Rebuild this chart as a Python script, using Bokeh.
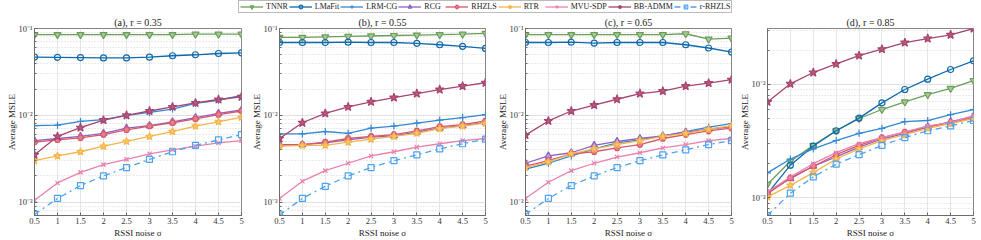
from bokeh.plotting import figure
from bokeh.layouts import row, column
from bokeh.models import (Range1d, FixedTicker, CustomJSTickFormatter, Legend, LegendItem,
                          ColumnDataSource, Title)
from bokeh.embed import file_html
from bokeh.resources import INLINE

X = [0.5, 1, 1.5, 2, 2.5, 3, 3.5, 4, 4.5, 5]
X_LABELS = ["0.5", "1", "1.5", "2", "2.5", "3", "3.5", "4", "4.5", "5"]
METHODS = ["TNNR", "LMaFit", "LRM-CG", "RCG", "RHZLS", "RTR", "MVU-SDP", "BB-ADMM", "r-RHZLS"]
TITLES = ["(a), r = 0.35", "(b), r = 0.55", "(c), r = 0.65", "(d), r = 0.85"]

# panel (a)
TNNR_a = [0.085, 0.085, 0.085, 0.085, 0.085, 0.085, 0.085, 0.086, 0.086, 0.086]
LMaFit_a = [0.0468, 0.0466, 0.0462, 0.0458, 0.0458, 0.0467, 0.0485, 0.0498, 0.0515, 0.0525]
LRMCG_a = [0.0076, 0.0077, 0.0085, 0.0089, 0.0100, 0.0108, 0.0118, 0.0137, 0.0149, 0.0170]
RCG_a = [0.0051, 0.0054, 0.0057, 0.0062, 0.0071, 0.0076, 0.0084, 0.0094, 0.0105, 0.0115]
RHZLS_a = [0.0049, 0.0052, 0.0055, 0.0060, 0.0068, 0.0075, 0.0082, 0.0091, 0.0102, 0.0112]
RTR_a = [0.0030, 0.0034, 0.0038, 0.0044, 0.0050, 0.0057, 0.0065, 0.0075, 0.0084, 0.0095]
MVU_a = [0.00105, 0.00166, 0.0022, 0.0027, 0.0031, 0.0036, 0.0040, 0.0044, 0.0048, 0.0051]
BB_a = [0.0035, 0.0057, 0.0072, 0.0088, 0.0100, 0.0112, 0.0125, 0.0139, 0.0152, 0.0163]
rRHZLS_a = [0.00072, 0.0011, 0.00155, 0.0020, 0.0025, 0.0031, 0.0038, 0.0045, 0.0052, 0.0060]

# panel (b)
TNNR_b = [0.079, 0.079, 0.080, 0.081, 0.082, 0.083, 0.084, 0.085, 0.086, 0.088]
LMaFit_b = [0.069, 0.069, 0.069, 0.0695, 0.069, 0.069, 0.0675, 0.065, 0.0623, 0.059]
LRMCG_b = [0.0061, 0.0061, 0.0065, 0.0062, 0.0071, 0.0075, 0.0081, 0.0088, 0.0094, 0.0102]
RCG_b = [0.0046, 0.0046, 0.0048, 0.0052, 0.0056, 0.0058, 0.0064, 0.0071, 0.0076, 0.0083]
RHZLS_b = [0.0045, 0.0046, 0.0049, 0.0054, 0.0057, 0.0060, 0.0066, 0.0074, 0.0078, 0.0086]
RTR_b = [0.0044, 0.0045, 0.0045, 0.0049, 0.0053, 0.0057, 0.0062, 0.0070, 0.0075, 0.0081]
MVU_b = [0.0011, 0.00174, 0.0023, 0.0028, 0.0034, 0.0038, 0.0043, 0.0047, 0.0051, 0.0054]
BB_b = [0.0054, 0.0082, 0.0105, 0.0125, 0.0143, 0.016, 0.0178, 0.0198, 0.0217, 0.0237]
rRHZLS_b = [0.00071, 0.0011, 0.00152, 0.0020, 0.0025, 0.0030, 0.0035, 0.0041, 0.0047, 0.0053]

# panel (c)
TNNR_c = [0.085, 0.085, 0.085, 0.085, 0.085, 0.085, 0.085, 0.087, 0.0755, 0.0775]
LMaFit_c = [0.069, 0.069, 0.0695, 0.068, 0.069, 0.069, 0.069, 0.065, 0.0596, 0.0535]
LRMCG_c = [0.0024, 0.0028, 0.0034, 0.0041, 0.0048, 0.0052, 0.0058, 0.0065, 0.0073, 0.0080]
RCG_c = [0.0028, 0.0034, 0.0037, 0.0045, 0.0050, 0.0054, 0.0058, 0.0064, 0.0069, 0.0074]
RHZLS_c = [0.0026, 0.0030, 0.0036, 0.0038, 0.0042, 0.0046, 0.0054, 0.0060, 0.0066, 0.0071]
RTR_c = [0.0025, 0.0029, 0.0036, 0.0041, 0.0046, 0.0051, 0.0057, 0.0062, 0.0069, 0.0076]
MVU_c = [0.0011, 0.00169, 0.0023, 0.0028, 0.0033, 0.0037, 0.0042, 0.0046, 0.0051, 0.0054]
BB_c = [0.0059, 0.0086, 0.0112, 0.0131, 0.0153, 0.0178, 0.019, 0.0217, 0.0235, 0.0257]
rRHZLS_c = [0.00072, 0.0011, 0.00155, 0.0020, 0.0025, 0.0030, 0.0035, 0.0040, 0.0046, 0.0051]

# panel (d)
TNNR_d = [0.00132, 0.0021, 0.0029, 0.0039, 0.0050, 0.0060, 0.0070, 0.0081, 0.0092, 0.0108]
LMaFit_d = [0.00109, 0.00194, 0.00286, 0.0039, 0.00504, 0.00686, 0.0090, 0.0111, 0.0135, 0.0161]
LRMCG_d = [0.00166, 0.0022, 0.0027, 0.0032, 0.0037, 0.0041, 0.0047, 0.0048, 0.0054, 0.0060]
RCG_d = [0.00111, 0.00148, 0.0019, 0.0023, 0.0028, 0.0033, 0.0037, 0.0042, 0.0047, 0.0052]
RHZLS_d = [0.00109, 0.0015, 0.0019, 0.0024, 0.0029, 0.0034, 0.0038, 0.0042, 0.0046, 0.0051]
RTR_d = [0.00102, 0.00129, 0.00167, 0.0022, 0.0027, 0.0032, 0.0036, 0.0041, 0.0045, 0.0050]
MVU_d = [0.00113, 0.00153, 0.0020, 0.0025, 0.0030, 0.0034, 0.0038, 0.0043, 0.0046, 0.0053]
BB_d = [0.0070, 0.0101, 0.0127, 0.0151, 0.0179, 0.0204, 0.0233, 0.0253, 0.0273, 0.031]
rRHZLS_d = [0.00070, 0.0011, 0.00153, 0.00198, 0.0024, 0.0029, 0.0034, 0.0039, 0.0043, 0.0048]

Y_MAX = [0.1, 0.1, 0.1, 0.031]
Y_MIN = 7e-4

PANEL_DATA = [
    [TNNR_a, LMaFit_a, LRMCG_a, RCG_a, RHZLS_a, RTR_a, MVU_a, BB_a, rRHZLS_a],
    [TNNR_b, LMaFit_b, LRMCG_b, RCG_b, RHZLS_b, RTR_b, MVU_b, BB_b, rRHZLS_b],
    [TNNR_c, LMaFit_c, LRMCG_c, RCG_c, RHZLS_c, RTR_c, MVU_c, BB_c, rRHZLS_c],
    [TNNR_d, LMaFit_d, LRMCG_d, RCG_d, RHZLS_d, RTR_d, MVU_d, BB_d, rRHZLS_d],
]

# styles: line colour, marker, fill, size, dash
STYLES = [
    ("#6C9E5A", "inverted_triangle", "#A7C899", 7, "solid"),
    ("#0E6AAC", "circle", None, 6, "solid"),
    ("#3189D2", "cross", None, 7, "solid"),
    ("#8E62C2", "triangle", "#B8A0DC", 7, "solid"),
    ("#D95767", "hex", "#E2808C", 6, "solid"),
    ("#F6B54A", "star", "#F9CC73", 8, "solid"),
    ("#EA80AE", "x", None, 6, "solid"),
    ("#A8446F", "star", "#B45C82", 9, "solid"),
    ("#4DA2F0", "square", None, 6, "dashdot"),
]

FONT = "Liberation Serif"
AX_COL = "#666666"

# geometry: (figure width, left border, right border)
GEOM = [(247, 34, 6), (246, 32, 8), (242, 32, 4), (246, 32, 8)]
PANEL_H = 226

fmt = CustomJSTickFormatter(code="""
const e = Math.round(Math.log10(tick));
const m = {'-1': '\u207b\u00b9', '-2': '\u207b\u00b2', '-3': '\u207b\u00b3'};
return '10' + m[String(e)];
""")

panels = []
for k in range(4):
    w, bl, br = GEOM[k]
    p = figure(width=w, height=PANEL_H, y_axis_type="log",
               x_range=Range1d(0.5, 5), y_range=Range1d(Y_MIN, Y_MAX[k]),
               output_backend="svg", toolbar_location=None,
               min_border_left=bl, min_border_right=br, min_border_top=12, min_border_bottom=24)
    p.title = Title(text=TITLES[k], align="center", text_font=FONT, text_font_size="10px",
                    text_font_style="normal", text_color="#222222", standoff=1, offset=0)
    p.outline_line_color = AX_COL
    p.outline_line_width = 0.8
    p.background_fill_color = "white"
    p.border_fill_color = "white"

    p.xaxis.ticker = FixedTicker(ticks=X)
    p.xaxis.major_label_overrides = {x: l for x, l in zip(X, X_LABELS)}
    yt = [1e-3, 1e-2, 1e-1]
    minors = [m * d for d in [1e-4, 1e-3, 1e-2] for m in range(2, 10)]
    p.yaxis.ticker = FixedTicker(ticks=yt, minor_ticks=minors)
    p.yaxis.formatter = fmt
    for ax in (p.xaxis, p.yaxis):
        ax.axis_line_color = AX_COL
        ax.axis_line_width = 0.8
        ax.major_tick_line_color = AX_COL
        ax.minor_tick_line_color = AX_COL
        ax.major_tick_in = 3
        ax.major_tick_out = 0
        ax.minor_tick_in = 2
        ax.minor_tick_out = 0
        ax.major_label_text_font = FONT
        ax.major_label_text_font_size = "8.5px"
        ax.major_label_text_color = "#333333"
        ax.axis_label_text_font = FONT
        ax.axis_label_text_font_size = "9px"
        ax.axis_label_text_font_style = "normal"
        ax.axis_label_text_color = "#222222"
    p.xaxis.major_label_standoff = 2
    p.xaxis.axis_label_standoff = 1
    p.yaxis.major_label_standoff = 2
    p.yaxis.axis_label_standoff = -2
    p.xaxis.minor_tick_line_color = None
    p.xaxis.axis_label = "RSSI noise \u03c3"
    p.yaxis.axis_label = "Average MSLE"

    p.xgrid.grid_line_color = "#e6e6e6"
    p.ygrid.grid_line_color = "#e0e0e0"
    p.ygrid.minor_grid_line_color = "#d6d6d6"
    p.ygrid.minor_grid_line_dash = "1 2"

    for j, ys in enumerate(PANEL_DATA[k]):
        col, mk, fill, sz, dash = STYLES[j]
        src = ColumnDataSource(data=dict(x=X, y=ys))
        p.line("x", "y", source=src, line_color=col, line_width=1.3, line_dash=dash)
        p.scatter("x", "y", source=src, marker=mk, size=sz, line_color=col, line_width=1.2,
                  fill_color=fill if fill else None)
    panels.append(p)

# legend strip (dummy renderers sit outside the visible range)
lg = figure(width=981, height=14, x_range=Range1d(0, 1), y_range=Range1d(0, 1),
            output_backend="svg", toolbar_location=None, x_axis_location=None, y_axis_location=None,
            min_border=0, outline_line_color=None)
lg.grid.visible = False
items = []
for j, name in enumerate(METHODS):
    col, mk, fill, sz, dash = STYLES[j]
    src = ColumnDataSource(data=dict(x=[10, 11], y=[10, 11]))
    r1 = lg.line("x", "y", source=src, line_color=col, line_width=1.3, line_dash=dash)
    r2 = lg.scatter("x", "y", source=src, marker=mk, size=sz, line_color=col, line_width=1.2,
                    fill_color=fill if fill else None)
    items.append(LegendItem(label=name, renderers=[r1, r2]))
legend = Legend(items=items, orientation="horizontal", location=(238, 1),
                label_text_font=FONT, label_text_font_size="8px", label_text_color="#222222",
                glyph_width=23, glyph_height=9, label_height=9, label_standoff=3, spacing=1,
                padding=1, margin=0, border_line_color="#777777", border_line_width=0.8,
                background_fill_color="white", background_fill_alpha=1.0)
lg.add_layout(legend, "center")

layout = column(lg, row(*panels, spacing=0), spacing=0)

open("out.html", "w").write(file_html(layout, INLINE))
